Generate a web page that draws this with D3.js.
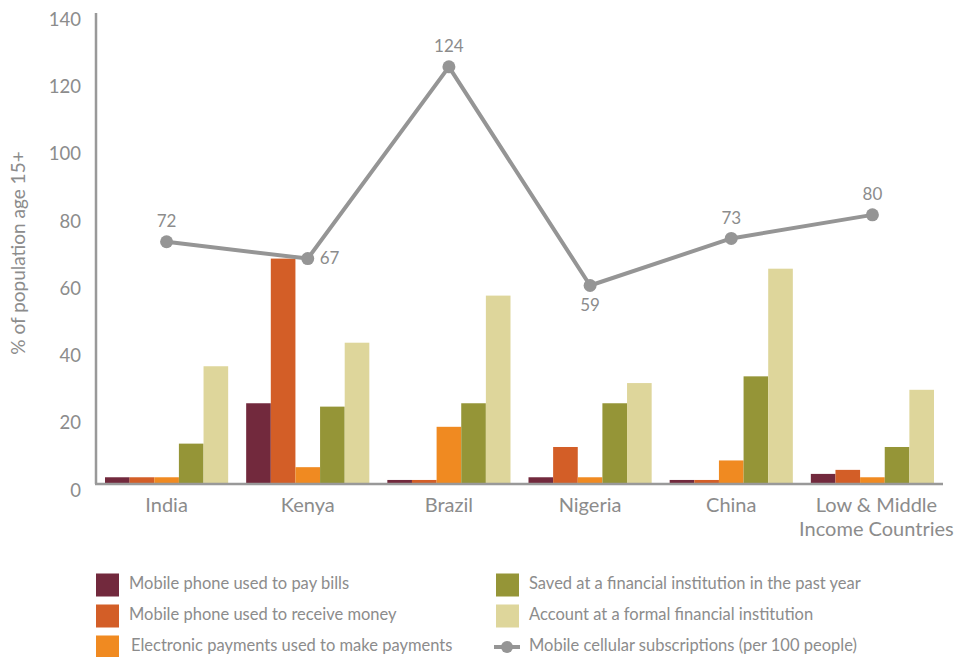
<!DOCTYPE html>
<html lang="en">
  <head>
    <meta charset="utf-8">
    <title>Mobile money and financial inclusion</title>
    <script src="https://cdn.jsdelivr.net/npm/d3@7"></script>
  </head>
  <style>
    body, html {
      margin: 0;
      padding: 0;
      background: #fff;
    }
    svg {
      display: block;
      font-family: "Lato", "Noto Sans", sans-serif;
    }
  </style>
  <body>
    <svg width="956" height="657"></svg>
  </body>
  <script>

    // data
    const countries = ['India', 'Kenya', 'Brazil', 'Nigeria', 'China', 'Low & Middle Income Countries']
    const payBills      = [2, 24, 1.2, 2, 1.2, 3]
    const receiveMoney  = [2, 67, 1.2, 11, 1.2, 4.2]
    const elecPayments  = [2, 5, 17, 2, 7, 2]
    const savedFin      = [12, 23, 24, 24, 32, 11]
    const accountFormal = [35, 42, 56, 30, 64, 28]
    const mobileSubs    = [72, 67, 124, 59, 73, 80]
    const yTicks = [0, 20, 40, 60, 80, 100, 120, 140]

    const seriesNames = [
      'Mobile phone used to pay bills',
      'Mobile phone used to receive money',
      'Electronic payments used to make payments',
      'Saved at a financial institution in the past year',
      'Account at a formal financial institution'
    ]
    const seriesValues = [payBills, receiveMoney, elecPayments, savedFin, accountFormal]
    const colors = ['#72293d', '#d35e27', '#f08a21', '#959537', '#ded69b']
    const lineName = 'Mobile cellular subscriptions (per 100 people)'

    const grey = '#8c8c8c'
    const svg = d3.select('svg')

    const plotLeft = 96, plotRight = 943, plotTop = 13, plotBottom = 484

    const x0 = d3.scaleBand().domain(countries).range([plotLeft, plotRight])
    const x1 = d3.scaleBand().domain(d3.range(seriesNames.length))
      .range([9, x0.bandwidth() - 9])
    const y = d3.scaleLinear().domain([0, 140]).range([plotBottom, plotTop])

    // y tick labels (sit a little below their value)
    svg.append('g').selectAll('text')
      .data(yTicks)
      .join('text')
      .attr('x', 81)
      .attr('y', d => y(d) + 8)
      .attr('text-anchor', 'end')
      .attr('dominant-baseline', 'middle')
      .attr('fill', grey)
      .style('font-size', '18.5px')
      .text(d => d)

    // y title
    svg.append('text')
      .attr('transform', 'translate(20, 253) rotate(-90)')
      .attr('text-anchor', 'middle')
      .attr('dominant-baseline', 'middle')
      .attr('fill', grey)
      .style('font-size', '19px')
      .text('% of population age 15+')

    // bars
    const groups = svg.append('g').selectAll('g')
      .data(countries)
      .join('g')
      .attr('transform', d => 'translate(' + x0(d) + ',0)')

    groups.selectAll('rect')
      .data((d, i) => seriesValues.map((s, k) => ({ k: k, v: s[i] })))
      .join('rect')
      .attr('x', d => x1(d.k))
      .attr('width', x1.bandwidth())
      .attr('y', d => y(d.v))
      .attr('height', d => y(0) - y(d.v))
      .attr('fill', d => colors[d.k])

    // axes lines
    svg.append('line')
      .attr('x1', plotLeft).attr('x2', plotLeft)
      .attr('y1', plotTop).attr('y2', plotBottom)
      .attr('stroke', '#999').attr('stroke-width', 2.5)
    svg.append('line')
      .attr('x1', plotLeft - 1).attr('x2', plotRight)
      .attr('y1', plotBottom).attr('y2', plotBottom)
      .attr('stroke', '#999').attr('stroke-width', 2.5)

    // category labels
    const catG = svg.append('g')
    countries.forEach((c, i) => {
      const cx = x0(c) + x0.bandwidth() / 2 + (i === 5 ? 4 : 0)
      const lines = c === 'Low & Middle Income Countries' ? ['Low & Middle', 'Income Countries'] : [c]
      lines.forEach((t, j) => {
        catG.append('text')
          .attr('x', cx)
          .attr('y', 507 + j * 24)
          .attr('text-anchor', 'middle')
          .attr('dominant-baseline', 'middle')
          .attr('fill', grey)
          .style('font-size', '20px')
          .text(t)
      })
    })

    // subscriptions line
    const cxOf = (i) => x0(countries[i]) + x0.bandwidth() / 2
    const line = d3.line().x((d, i) => cxOf(i)).y(d => y(d))

    svg.append('path')
      .datum(mobileSubs)
      .attr('d', line)
      .attr('fill', 'none')
      .attr('stroke', '#959595')
      .attr('stroke-width', 4)
      .attr('stroke-linejoin', 'round')

    svg.append('g').selectAll('circle')
      .data(mobileSubs)
      .join('circle')
      .attr('cx', (d, i) => cxOf(i))
      .attr('cy', d => y(d))
      .attr('r', 6.5)
      .attr('fill', '#959595')

    // point labels: above, except Kenya (right) and Nigeria (below)
    const labelPos = ['above', 'right', 'above', 'below', 'above', 'above']
    svg.append('g').selectAll('text')
      .data(mobileSubs)
      .join('text')
      .attr('x', (d, i) => cxOf(i) + (labelPos[i] === 'right' ? 12 : 0))
      .attr('y', (d, i) => y(d) + (labelPos[i] === 'above' ? -19 : labelPos[i] === 'below' ? 21 : 1))
      .attr('text-anchor', (d, i) => labelPos[i] === 'right' ? 'start' : 'middle')
      .attr('dominant-baseline', 'middle')
      .attr('fill', grey)
      .style('font-size', '17px')
      .text(d => d)

    // legend
    const legend = svg.append('g')
    const legItems = seriesNames.map((n, k) => ({ name: n, color: colors[k], type: 'box' }))
    legItems.push({ name: lineName, color: '#959595', type: 'line' })
    const legPos = [[96, 585], [96, 616], [96, 647], [496, 585], [496, 616], [496, 647]]

    legItems.forEach((it, k) => {
      const [lx, ly] = legPos[k]
      if (it.type === 'box') {
        legend.append('rect')
          .attr('x', lx).attr('y', ly - 11.5)
          .attr('width', 23).attr('height', 23)
          .attr('fill', it.color)
      } else {
        legend.append('line')
          .attr('x1', lx - 2).attr('x2', lx + 24)
          .attr('y1', ly).attr('y2', ly)
          .attr('stroke', it.color).attr('stroke-width', 4)
        legend.append('circle')
          .attr('cx', lx + 11).attr('cy', ly).attr('r', 6)
          .attr('fill', it.color)
      }
      legend.append('text')
        .attr('x', lx + (k === 2 ? 35 : 33))
        .attr('y', ly)
        .attr('dominant-baseline', 'middle')
        .attr('fill', grey)
        .style('font-size', '16.5px')
        .text(it.name)
    })

  </script>
</html>
